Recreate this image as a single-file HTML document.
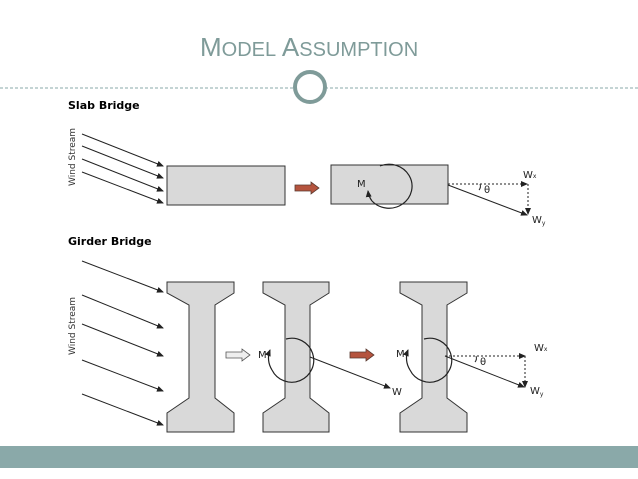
<html><head><style>body{margin:0;background:#fff}svg{display:block}</style></head><body>
<svg width="638" height="479" viewBox="0 0 638 479" xmlns="http://www.w3.org/2000/svg" font-family="Liberation Sans, DejaVu Sans, sans-serif">
<defs><marker id="a" markerWidth="7" markerHeight="6" refX="6" refY="3" orient="auto" markerUnits="userSpaceOnUse"><path d="M0,0 L7,3 L0,6 Z" fill="#222"/></marker></defs>
<text x="200" y="56" font-size="26" fill="#7f9b99">M<tspan font-size="20">ODEL</tspan> A<tspan font-size="20">SSUMPTION</tspan></text>
<line x1="0" y1="88" x2="638" y2="88" stroke="#8aa" stroke-dasharray="3,2" stroke-width="1"/>
<circle cx="310" cy="87" r="15" fill="#fff" stroke="#7f9b99" stroke-width="4"/>
<text x="68" y="109" font-size="11" font-weight="bold" font-family="DejaVu Sans, sans-serif">Slab Bridge</text>
<text x="68" y="245" font-size="11" font-weight="bold" font-family="DejaVu Sans, sans-serif">Girder Bridge</text>
<text transform="translate(75,186) rotate(-90)" font-size="9" font-family="DejaVu Sans, sans-serif" fill="#333">Wind Stream</text>
<text transform="translate(75,355) rotate(-90)" font-size="9" font-family="DejaVu Sans, sans-serif" fill="#333">Wind Stream</text>
<g stroke="#222" stroke-width="1" marker-end="url(#a)">
<line x1="82" y1="134" x2="163" y2="166"/><line x1="82" y1="146" x2="163" y2="178"/><line x1="82" y1="159" x2="163" y2="191"/><line x1="82" y1="172" x2="163" y2="203"/>
<line x1="82" y1="261" x2="163" y2="292"/><line x1="82" y1="295" x2="163" y2="328"/><line x1="82" y1="324" x2="163" y2="356"/><line x1="82" y1="360" x2="163" y2="391"/><line x1="82" y1="394" x2="163" y2="425"/>
</g>
<rect x="167" y="166" width="118" height="39" fill="#d9d9d9" stroke="#333"/>
<rect x="331" y="165" width="117" height="39" fill="#d9d9d9" stroke="#333"/>
<path d="M295,185 h16 v-3 l8,6 -8,6 v-3 h-16z" fill="#b5543e" stroke="#5a3a30" stroke-width="0.8"/>
<path d="M226,352 h16 v-3 l8,6 -8,6 v-3 h-16z" fill="#eee" stroke="#555" stroke-width="0.8"/>
<path d="M350,352 h16 v-3 l8,6 -8,6 v-3 h-16z" fill="#b5543e" stroke="#5a3a30" stroke-width="0.8"/>
<g fill="#d9d9d9" stroke="#333">
<path d="M167,282 h67 v11 l-19,12 v93 l19,15 v19 h-67 v-19 l22,-15 v-93 l-22,-12 z"/>
<path d="M263,282 h66 v11 l-19,12 v93 l19,15 v19 h-66 v-19 l22,-15 v-93 l-22,-12 z"/>
<path d="M400,282 h67 v11 l-20,12 v93 l20,15 v19 h-67 v-19 l22,-15 v-93 l-22,-12 z"/>
</g>
<g fill="none" stroke="#222" stroke-width="1.2">
<path d="M380,166 A23,22 0 1 1 372,201" /><path d="M372,201 A23,22 0 0 1 368,191" marker-end="url(#a)"/>
<path d="M286,339 A22,22 0 1 1 272,370"/><path d="M272,370 A22,22 0 0 1 270,350" marker-end="url(#a)"/>
<path d="M424,339 A22,22 0 1 1 410,370"/><path d="M410,370 A22,22 0 0 1 408,350" marker-end="url(#a)"/>
</g>
<g stroke="#222" stroke-width="1" fill="none">
<line x1="448" y1="184" x2="527" y2="184" stroke-dasharray="2,2" marker-end="url(#a)"/>
<line x1="528" y1="184" x2="528" y2="214" stroke-dasharray="2,2" marker-end="url(#a)"/>
<line x1="448" y1="185" x2="527" y2="215" marker-end="url(#a)"/>
<path d="M480,184 a6,6 0 0 1 -1,6"/>
<line x1="310" y1="357" x2="390" y2="388" marker-end="url(#a)"/>
<line x1="445" y1="356" x2="525" y2="356" stroke-dasharray="2,2" marker-end="url(#a)"/>
<line x1="525" y1="356" x2="525" y2="387" stroke-dasharray="2,2" marker-end="url(#a)"/>
<line x1="445" y1="356" x2="524" y2="387" marker-end="url(#a)"/>
<path d="M476,356 a6,6 0 0 1 -1,6"/>
</g>
<g font-size="10" fill="#222" font-family="DejaVu Sans, sans-serif">
<text x="357" y="187">M</text><text x="484" y="193">θ</text>
<text x="523" y="178">W<tspan font-size="6">x</tspan></text><text x="532" y="223">W<tspan font-size="6" dy="2">y</tspan></text>
<text x="258" y="358">M</text><text x="392" y="395">W</text>
<text x="396" y="357">M</text><text x="480" y="365">θ</text>
<text x="534" y="351">W<tspan font-size="6">x</tspan></text><text x="530" y="394">W<tspan font-size="6" dy="2">y</tspan></text>
</g>
<rect x="0" y="446" width="638" height="22" fill="#8aa9a9"/>
</svg></body></html>
